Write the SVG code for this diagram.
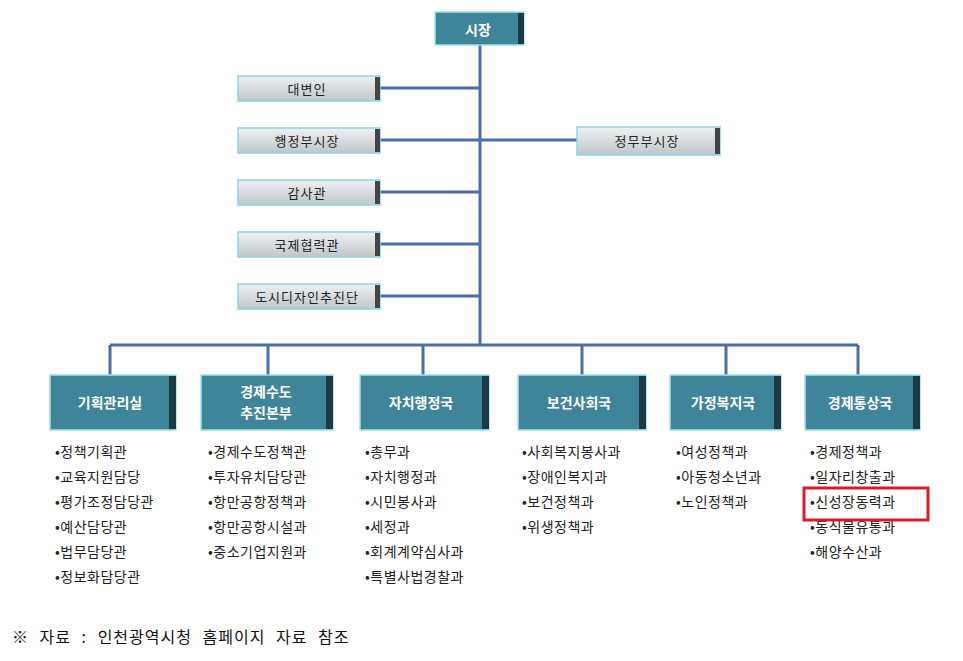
<svg xmlns="http://www.w3.org/2000/svg" width="963" height="661" viewBox="0 0 963 661">
<defs>
<linearGradient id="gg" x1="0" y1="0" x2="0" y2="1"><stop offset="0" stop-color="#eef1f2"/><stop offset="1" stop-color="#bfc6c9"/></linearGradient>
<style>
.conn{stroke:#4a6fa5;stroke-width:3;fill:none}
.tb{fill:#3f8599;stroke:#9fe3ee;stroke-width:1.5}
.gb{fill:url(#gg);stroke:#8fd4e6;stroke-width:1.5}
.tt{font-family:"Noto Sans CJK KR","Noto Sans",sans-serif;font-size:14px;fill:#fff;font-weight:bold;text-anchor:middle}
.gt{font-family:"Noto Sans CJK KR","Noto Sans",sans-serif;font-size:13px;fill:#222;text-anchor:middle;letter-spacing:1px}
.li{font-family:"Noto Sans CJK KR","Noto Sans",sans-serif;font-size:14px;fill:#222;letter-spacing:0.5px}
.sh{fill:#1d3a44}
.gs{fill:#444}
</style>
</defs>
<rect width="963" height="661" fill="#fff"/>
<g id="connectors">
<path class="conn" d="M480 45V345M380 88H480M380 140H577M380 192H480M380 244H480M380 296H480M110 345H858M110 345V375M268 345V375M423 345V375M582 345V375M726 345V375M858 345V375"/>
</g>
<g id="n-mayor"><rect class="tb" x="435" y="12" width="89" height="33"/><rect class="sh" x="518" y="13" width="6" height="31"/><text class="tt" x="478" y="35" font-size="16">시장</text></g>
<g id="n1"><rect class="gb" x="238" y="76" width="142" height="25"/><rect class="gs" x="375" y="77" width="5" height="23"/><text class="gt" x="307" y="94">대변인</text></g>
<g id="n2"><rect class="gb" x="238" y="128" width="142" height="25"/><rect class="gs" x="375" y="129" width="5" height="23"/><text class="gt" x="307" y="146">행정부시장</text></g>
<g id="n3"><rect class="gb" x="577" y="127" width="143" height="28"/><rect class="gs" x="715" y="128" width="5" height="26"/><text class="gt" x="647" y="146">정무부시장</text></g>
<g id="n4"><rect class="gb" x="238" y="180" width="142" height="25"/><rect class="gs" x="375" y="181" width="5" height="23"/><text class="gt" x="307" y="198">감사관</text></g>
<g id="n5"><rect class="gb" x="238" y="232" width="142" height="25"/><rect class="gs" x="375" y="233" width="5" height="23"/><text class="gt" x="307" y="250">국제협력관</text></g>
<g id="n6"><rect class="gb" x="238" y="284" width="142" height="25"/><rect class="gs" x="375" y="285" width="5" height="23"/><text class="gt" x="307" y="302">도시디자인추진단</text></g>
<g id="d1"><rect class="tb" x="50" y="375" width="126" height="55"/><rect class="sh" x="169" y="376" width="7" height="53"/><text class="tt" x="110" y="408">기획관리실</text></g>
<g id="d2"><rect class="tb" x="201" y="375" width="132" height="55"/><rect class="sh" x="326" y="376" width="7" height="53"/><text class="tt" x="266" y="397" font-size="13">경제수도</text><text class="tt" x="266" y="418" font-size="13">추진본부</text></g>
<g id="d3"><rect class="tb" x="360" y="375" width="129" height="55"/><rect class="sh" x="482" y="376" width="7" height="53"/><text class="tt" x="421" y="408">자치행정국</text></g>
<g id="d4"><rect class="tb" x="518" y="375" width="128" height="55"/><rect class="sh" x="639" y="376" width="7" height="53"/><text class="tt" x="579" y="408">보건사회국</text></g>
<g id="d5"><rect class="tb" x="670" y="375" width="111" height="55"/><rect class="sh" x="774" y="376" width="7" height="53"/><text class="tt" x="723" y="408">가정복지국</text></g>
<g id="d6"><rect class="tb" x="805" y="375" width="115" height="55"/><rect class="sh" x="913" y="376" width="7" height="53"/><text class="tt" x="860" y="408">경제통상국</text></g>
<g id="lists">
<text class="li" x="55" y="457">•정책기획관</text><text class="li" x="55" y="482">•교육지원담당</text><text class="li" x="55" y="507">•평가조정담당관</text><text class="li" x="55" y="532">•예산담당관</text><text class="li" x="55" y="557">•법무담당관</text><text class="li" x="55" y="582">•정보화담당관</text>
<text class="li" x="208" y="457">•경제수도정책관</text><text class="li" x="208" y="482">•투자유치담당관</text><text class="li" x="208" y="507">•항만공항정책과</text><text class="li" x="208" y="532">•항만공항시설과</text><text class="li" x="208" y="557">•중소기업지원과</text>
<text class="li" x="365" y="457">•총무과</text><text class="li" x="365" y="482">•자치행정과</text><text class="li" x="365" y="507">•시민봉사과</text><text class="li" x="365" y="532">•세정과</text><text class="li" x="365" y="557">•회계계약심사과</text><text class="li" x="365" y="582">•특별사법경찰과</text>
<text class="li" x="522" y="457">•사회복지봉사과</text><text class="li" x="522" y="482">•장애인복지과</text><text class="li" x="522" y="507">•보건정책과</text><text class="li" x="522" y="532">•위생정책과</text>
<text class="li" x="676" y="457">•여성정책과</text><text class="li" x="676" y="482">•아동청소년과</text><text class="li" x="676" y="507">•노인정책과</text>
<text class="li" x="810" y="457">•경제정책과</text><text class="li" x="810" y="482">•일자리창출과</text><text class="li" x="810" y="507">•신성장동력과</text><text class="li" x="810" y="532">•동식물유통과</text><text class="li" x="810" y="557">•해양수산과</text>
</g>
<rect x="804" y="488" width="124" height="32" fill="none" stroke="#d91c24" stroke-width="3"/>
<text x="12" y="643" font-family="Noto Sans CJK KR,sans-serif" font-size="16" fill="#111" letter-spacing="1" word-spacing="6" xml:space="preserve">※ 자료 : 인천광역시청 홈페이지 자료 참조</text>
</svg>
